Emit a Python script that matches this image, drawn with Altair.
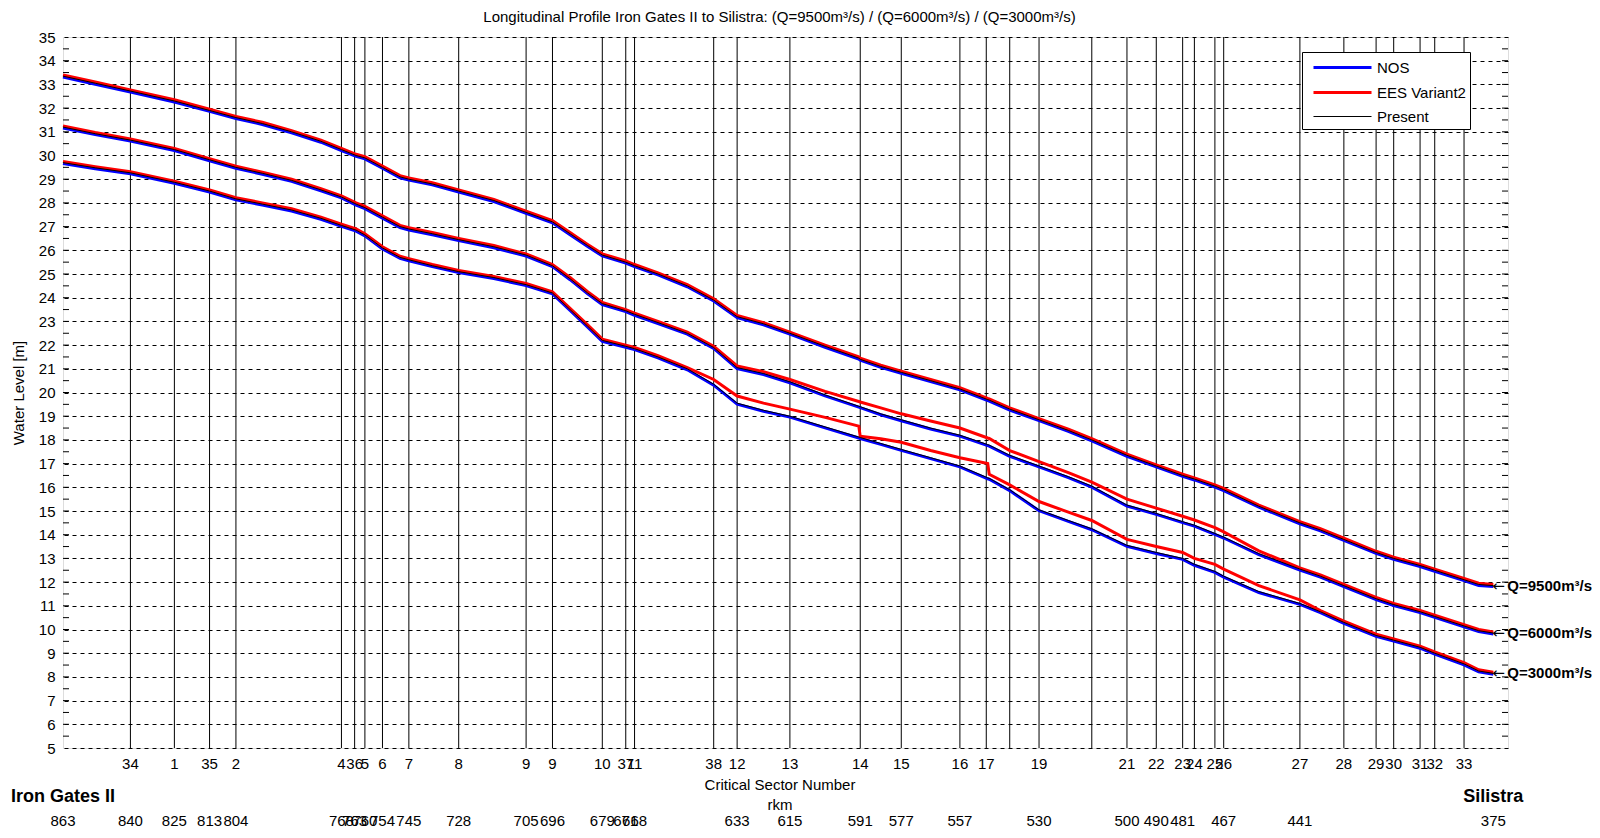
import altair as alt
import pandas as pd

# ---------------- data ----------------
RKM = [863, 852, 840, 825, 813, 804, 795, 785, 775, 768,
       763, 760, 754, 748, 745, 737, 728, 716, 705, 696,
       690, 684, 679, 671, 668, 660, 650, 641, 633, 624,
       615, 603, 591.5, 591, 584, 577, 567, 557, 547.5, 547,
       540, 530, 520, 512, 500, 490, 481, 477, 470, 467,
       455, 441, 434, 426, 415, 409, 400, 395, 385, 380, 375]

PRESENT_9500 = [33.35, 33.05, 32.72, 32.30, 31.90, 31.60, 31.35, 31.00, 30.60, 30.25,
                30.00, 29.90, 29.50, 29.10, 29.00, 28.80, 28.50, 28.10, 27.60, 27.20,
                26.70, 26.20, 25.80, 25.50, 25.35, 25.00, 24.50, 23.90, 23.20, 22.90,
                22.50, 21.95, 21.45, 21.40, 21.10, 20.85, 20.50, 20.15, 19.70, 19.68,
                19.30, 18.85, 18.40, 18.00, 17.35, 16.90, 16.50, 16.35, 16.05, 15.90,
                15.20, 14.50, 14.20, 13.80, 13.25, 13.00, 12.70, 12.50, 12.10, 11.90, 11.85]
NOS_9500 = [33.31, 33.01, 32.68, 32.26, 31.86, 31.56, 31.31, 30.96, 30.56, 30.21,
            29.96, 29.86, 29.46, 29.06, 28.96, 28.76, 28.46, 28.06, 27.56, 27.16,
            26.66, 26.16, 25.76, 25.46, 25.31, 24.96, 24.46, 23.86, 23.16, 22.86,
            22.46, 21.91, 21.41, 21.36, 21.06, 20.81, 20.46, 20.11, 19.66, 19.64,
            19.26, 18.81, 18.36, 17.96, 17.31, 16.86, 16.46, 16.31, 16.01, 15.86,
            15.16, 14.46, 14.16, 13.76, 13.21, 12.96, 12.66, 12.46, 12.06, 11.86, 11.81]
EES_9500 = [33.40, 33.10, 32.77, 32.35, 31.95, 31.65, 31.40, 31.05, 30.65, 30.30,
            30.05, 29.95, 29.55, 29.15, 29.05, 28.85, 28.55, 28.15, 27.65, 27.25,
            26.75, 26.25, 25.85, 25.55, 25.40, 25.05, 24.55, 23.95, 23.25, 22.95,
            22.55, 22.00, 21.50, 21.45, 21.15, 20.90, 20.55, 20.20, 19.75, 19.73,
            19.35, 18.90, 18.45, 18.05, 17.40, 16.95, 16.55, 16.40, 16.10, 15.95,
            15.25, 14.55, 14.25, 13.85, 13.30, 13.05, 12.75, 12.55, 12.15, 11.95, 11.90]

PRESENT_6000 = [31.20, 30.92, 30.65, 30.25, 29.82, 29.50, 29.25, 28.95, 28.55, 28.25,
                27.95, 27.80, 27.40, 27.00, 26.90, 26.70, 26.45, 26.15, 25.80, 25.35,
                24.80, 24.20, 23.75, 23.45, 23.30, 22.95, 22.50, 21.90, 21.05, 20.80,
                20.45, 19.90, 19.42, 19.40, 19.10, 18.85, 18.50, 18.20, 17.80, 17.78,
                17.35, 16.90, 16.45, 16.05, 15.25, 14.90, 14.55, 14.40, 14.05, 13.90,
                13.20, 12.55, 12.25, 11.85, 11.30, 11.05, 10.75, 10.55, 10.15, 9.95, 9.85]
NOS_6000 = [31.16, 30.88, 30.61, 30.21, 29.78, 29.46, 29.21, 28.91, 28.51, 28.21,
            27.91, 27.76, 27.36, 26.96, 26.86, 26.66, 26.41, 26.11, 25.76, 25.31,
            24.76, 24.16, 23.71, 23.41, 23.26, 22.91, 22.46, 21.86, 21.01, 20.76,
            20.41, 19.86, 19.38, 19.36, 19.06, 18.81, 18.46, 18.16, 17.76, 17.74,
            17.31, 16.86, 16.41, 16.01, 15.21, 14.86, 14.51, 14.36, 14.01, 13.86,
            13.16, 12.51, 12.21, 11.81, 11.26, 11.01, 10.71, 10.51, 10.11, 9.91, 9.81]
EES_6000 = [31.25, 30.97, 30.70, 30.30, 29.87, 29.55, 29.30, 29.00, 28.60, 28.30,
            28.00, 27.85, 27.45, 27.05, 26.95, 26.75, 26.50, 26.20, 25.85, 25.40,
            24.85, 24.25, 23.80, 23.50, 23.35, 23.00, 22.55, 21.95, 21.12, 20.88,
            20.55, 20.05, 19.62, 19.60, 19.35, 19.10, 18.80, 18.50, 18.08, 18.06,
            17.55, 17.08, 16.62, 16.22, 15.50, 15.12, 14.78, 14.62, 14.30, 14.12,
            13.32, 12.60, 12.30, 11.90, 11.35, 11.10, 10.80, 10.60, 10.20, 10.00, 9.90]

PRESENT_3000 = [29.70, 29.48, 29.27, 28.87, 28.50, 28.17, 27.95, 27.70, 27.35, 27.05,
                26.85, 26.65, 26.10, 25.70, 25.60, 25.35, 25.10, 24.85, 24.55, 24.20,
                23.50, 22.80, 22.20, 21.95, 21.85, 21.50, 21.00, 20.35, 19.55, 19.25,
                19.00, 18.55, 18.12, 18.10, 17.85, 17.60, 17.25, 16.90, 16.40, 16.38,
                15.90, 15.05, 14.60, 14.25, 13.55, 13.25, 13.00, 12.75, 12.45, 12.25,
                11.60, 11.10, 10.75, 10.30, 9.75, 9.55, 9.25, 9.00, 8.55, 8.25, 8.15]
NOS_3000 = [29.66, 29.44, 29.23, 28.83, 28.46, 28.13, 27.91, 27.66, 27.31, 27.01,
            26.81, 26.61, 26.06, 25.66, 25.56, 25.31, 25.06, 24.81, 24.51, 24.16,
            23.46, 22.76, 22.16, 21.91, 21.81, 21.46, 20.96, 20.31, 19.51, 19.21,
            18.96, 18.51, 18.08, 18.06, 17.81, 17.56, 17.21, 16.86, 16.36, 16.34,
            15.86, 15.01, 14.56, 14.21, 13.51, 13.21, 12.96, 12.71, 12.41, 12.21,
            11.56, 11.06, 10.71, 10.26, 9.71, 9.51, 9.21, 8.96, 8.51, 8.21, 8.11]
EES_3000 = [29.75, 29.53, 29.32, 28.92, 28.55, 28.22, 28.00, 27.75, 27.40, 27.10,
            26.90, 26.70, 26.15, 25.75, 25.65, 25.40, 25.15, 24.90, 24.60, 24.25,
            23.55, 22.85, 22.25, 22.00, 21.90, 21.55, 21.05, 20.55, 19.85, 19.55,
            19.30, 18.95, 18.58, 18.15, 18.05, 17.90, 17.55, 17.25, 17.00, 16.55,
            16.10, 15.40, 14.95, 14.60, 13.80, 13.50, 13.25, 13.00, 12.75, 12.55,
            11.85, 11.25, 10.80, 10.35, 9.80, 9.60, 9.30, 9.05, 8.60, 8.30, 8.20]

SCENARIOS = ["NOS", "EES Variant2", "Present"]
SCENARIO_COLORS = ["#0000ff", "#ff0000", "#000000"]
SCENARIO_WIDTHS = [3, 3, 1]

SECTOR_RKM = [840, 825, 813, 804, 768, 763.5, 760, 754, 745, 728, 705, 696, 679, 671, 668,
              641, 633, 615, 591, 577, 557, 548, 540, 530, 512, 500, 490, 481, 477, 470,
              467, 441, 426, 415, 409, 400, 395, 385]
SECTOR_LABEL = ["34", "1", "35", "2", "4", "36", "5", "6", "7", "8", "9", "9", "10", "37", "11",
                "38", "12", "13", "14", "15", "16", "17", "", "19", "", "21", "22", "23", "24", "25",
                "26", "27", "28", "29", "30", "31", "32", "33"]

RKM_LABEL_POS = [863, 840, 825, 813, 804, 768, 763.5, 760, 754, 745, 728, 705, 696, 679, 671,
                 668, 633, 615, 591, 577, 557, 530, 500, 490, 481, 467, 441, 375]
RKM_LABEL_TEXT = ["863", "840", "825", "813", "804", "768", "763", "760", "754", "745", "728",
                  "705", "696", "679", "671", "668", "633", "615", "591", "577", "557", "530",
                  "500", "490", "481", "467", "441", "375"]

END_NAMES = ["Iron Gates II", "Silistra"]
END_RKM = [863, 375]

Q_LABELS = ["Q=9500m\u00b3/s", "Q=6000m\u00b3/s", "Q=3000m\u00b3/s"]
Q_ARROWS = ["\u2190", "\u2190", "\u2190"]
Q_LABEL_RKM = [375, 375, 375]
Q_LABEL_LEVEL = [11.85, 9.85, 8.15]

Y_TICKS = list(range(5, 36))
MINOR_TICKS = [5 + 0.5 * i for i in range(1, 60)]

TITLE = "Longitudinal Profile Iron Gates II to Silistra: (Q=9500m\u00b3/s) / (Q=6000m\u00b3/s) / (Q=3000m\u00b3/s)"

# ---------------- build tables ----------------
series = {
    "NOS": {"9500": NOS_9500, "6000": NOS_6000, "3000": NOS_3000},
    "EES Variant2": {"9500": EES_9500, "6000": EES_6000, "3000": EES_3000},
    "Present": {"9500": PRESENT_9500, "6000": PRESENT_6000, "3000": PRESENT_3000},
}
rows = []
for scen, qs in series.items():
    for q, vals in qs.items():
        for r, v in zip(RKM, vals):
            rows.append({"rkm": r, "level": v, "scenario": scen, "Q": q})
lines_df = pd.DataFrame(rows)

sector_df = pd.DataFrame({"rkm": SECTOR_RKM, "label": SECTOR_LABEL})
rkmlab_df = pd.DataFrame({"rkm": RKM_LABEL_POS, "label": RKM_LABEL_TEXT})
end_df = pd.DataFrame({"rkm": END_RKM, "label": END_NAMES})
q_df = pd.DataFrame({"rkm": Q_LABEL_RKM, "level": Q_LABEL_LEVEL, "label": Q_LABELS,
                     "arrow": Q_ARROWS})
tick_df = pd.DataFrame({"level": MINOR_TICKS})

W, H = 1445, 711
FONT = "Liberation Sans, Arial, Helvetica, sans-serif"

xscale = alt.Scale(domain=[370, 863], reverse=True, nice=False, zero=False)
yscale = alt.Scale(domain=[5, 35], nice=False, zero=False)
yaxis = alt.Axis(values=Y_TICKS, title="Water Level [m]", grid=True, gridDash=[4, 4],
                 gridColor="black", gridOpacity=1, gridWidth=1, ticks=False, domain=False,
                 labelFontSize=15, labelColor="black", labelPadding=8, labelFont=FONT,
                 titleFont=FONT, titleFontSize=15, titleFontWeight="normal", titleColor="black",
                 titlePadding=12)

X = alt.X("rkm:Q", scale=xscale, axis=None)
Y = alt.Y("level:Q", scale=yscale, axis=yaxis)

legend = alt.Legend(orient="none", legendX=1239, legendY=15, fillColor="white",
                    strokeColor="black", padding=4, symbolType="M-3,0H3", symbolSize=374,
                    symbolOffset=25, labelOffset=23, rowPadding=5, labelFontSize=15,
                    labelFont=FONT, labelColor="black", title=None,
                    labelExpr="datum.label + '   '")
color = alt.Color("scenario:N", scale=alt.Scale(domain=SCENARIOS, range=SCENARIO_COLORS),
                  legend=legend)
swidth = alt.StrokeWidth("scenario:N",
                         scale=alt.Scale(type="ordinal", domain=SCENARIOS, range=SCENARIO_WIDTHS),
                         legend=legend)

rules = alt.Chart(sector_df).mark_rule(color="black", strokeWidth=1).encode(
    x=X, y=alt.value(0), y2=alt.value(H))

def line_layer(name):
    return alt.Chart(lines_df).transform_filter(
        alt.datum.scenario == name
    ).mark_line(interpolate="linear").encode(
        x=X, y=Y, color=color, strokeWidth=swidth, detail="Q:N")

nos = line_layer("NOS")
ees = line_layer("EES Variant2")
pres = line_layer("Present")

ticks_left = alt.Chart(tick_df).mark_rule(color="black").encode(
    y=Y, x=alt.value(0), x2=alt.value(6))
ticks_right = alt.Chart(tick_df).mark_rule(color="black").encode(
    y=Y, x=alt.value(W - 6), x2=alt.value(W))

sector_text = alt.Chart(sector_df).mark_text(
    font=FONT, fontSize=15, color="black", align="center", baseline="alphabetic"
).encode(x=X, y=alt.value(H + 21), text="label:N")

rkm_text = alt.Chart(rkmlab_df).mark_text(
    font=FONT, fontSize=15, color="black", align="center", baseline="alphabetic"
).encode(x=X, y=alt.value(H + 78), text="label:N")

end_text = alt.Chart(end_df).mark_text(
    font=FONT, fontSize=18, fontWeight="bold", color="black", align="center",
    baseline="alphabetic"
).encode(x=X, y=alt.value(H + 54), text="label:N")

q_arrow = alt.Chart(q_df).mark_text(
    font="DejaVu Sans", fontSize=15, color="black", align="left", baseline="middle", dx=-1
).encode(x=X, y=Y, text="arrow:N")

q_text = alt.Chart(q_df).mark_text(
    font=FONT, fontSize=15, fontWeight="bold", color="black", align="left", baseline="middle",
    dx=14
).encode(x=X, y=Y, text="label:N")

axis_titles = alt.Chart(pd.DataFrame({"t": ["Critical Sector Number", "rkm"],
                                      "yy": [H + 42, H + 62]})).mark_text(
    font=FONT, fontSize=15, color="black", align="center", baseline="alphabetic"
).encode(x=alt.value(717), y=alt.Y("yy:Q", scale=None), text="t:N")

chart = alt.layer(
    rules, nos, ees, pres, ticks_left, ticks_right, sector_text, rkm_text, end_text,
    q_arrow, q_text, axis_titles
).properties(
    width=W, height=H,
    title=alt.Title(TITLE, font=FONT, fontSize=15, fontWeight="normal", color="black",
                    anchor="middle", offset=5, dx=-6),
    autosize=alt.AutoSizeParams(type="none"),
    padding={"left": 55, "top": 29, "right": 84, "bottom": 82},
).configure_view(
    stroke="black", strokeWidth=1
).configure(background="white")

chart.save("out.html", embed_options={"renderer": "svg", "actions": False})
